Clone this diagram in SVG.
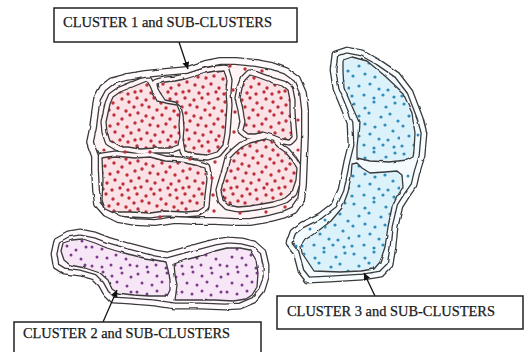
<svg xmlns="http://www.w3.org/2000/svg" xmlns:xlink="http://www.w3.org/1999/xlink" width="524" height="352" viewBox="0 0 524 352">
<style>
.lbl{font-family:"Liberation Serif","Times New Roman",serif;font-size:14px;fill:#1a1a1a;stroke:#1a1a1a;stroke-width:0.25}
.box{fill:#fff;stroke:#222;stroke-width:1.5}
.conn{stroke:#111;stroke-width:1.3;fill:none}
.edge{fill:none;stroke:#3a3a3a;stroke-width:1.3;stroke-linejoin:round}
.haloD{fill:none;stroke:#3a3a3a;stroke-width:11.3;stroke-linejoin:round}
.dblD1{fill:none;stroke:#3a3a3a;stroke-width:8;stroke-linejoin:round}
.dblD{fill:none;stroke:#3a3a3a;stroke-width:7;stroke-linejoin:round}
.rd{fill:#bf303a}
.bd{fill:#2e8dbd}
</style>
<defs>
<filter id="rough" x="-5%" y="-5%" width="110%" height="110%">
<feTurbulence type="fractalNoise" baseFrequency="0.09" numOctaves="2" seed="4" result="n"/>
<feDisplacementMap in="SourceGraphic" in2="n" scale="2.6" xChannelSelector="R" yChannelSelector="G"/>
</filter>
<pattern id="dotsRed" patternUnits="userSpaceOnUse" width="48" height="48">
<rect width="48" height="48" fill="#fbe2e7"/>
<g fill="#bf303a">
<circle cx="2" cy="4" r="1.7"/><circle cx="10" cy="2" r="1.7"/><circle cx="17" cy="7" r="1.7"/><circle cx="26" cy="3" r="1.7"/><circle cx="33" cy="6" r="1.7"/><circle cx="41" cy="2" r="1.7"/><circle cx="46" cy="9" r="1.7"/>
<circle cx="5" cy="11" r="1.7"/><circle cx="13" cy="14" r="1.7"/><circle cx="22" cy="12" r="1.7"/><circle cx="30" cy="15" r="1.7"/><circle cx="38" cy="11" r="1.7"/>
<circle cx="2" cy="20" r="1.7"/><circle cx="9" cy="22" r="1.7"/><circle cx="18" cy="19" r="1.7"/><circle cx="26" cy="23" r="1.7"/><circle cx="34" cy="19" r="1.7"/><circle cx="42" cy="17" r="1.7"/><circle cx="46" cy="25" r="1.7"/>
<circle cx="6" cy="29" r="1.7"/><circle cx="14" cy="30" r="1.7"/><circle cx="22" cy="28" r="1.7"/><circle cx="31" cy="31" r="1.7"/><circle cx="39" cy="27" r="1.7"/>
<circle cx="3" cy="37" r="1.7"/><circle cx="11" cy="39" r="1.7"/><circle cx="19" cy="36" r="1.7"/><circle cx="27" cy="40" r="1.7"/><circle cx="35" cy="37" r="1.7"/><circle cx="43" cy="34" r="1.7"/><circle cx="45" cy="43" r="1.7"/>
<circle cx="7" cy="45" r="1.7"/><circle cx="16" cy="46" r="1.7"/><circle cx="24" cy="44" r="1.7"/><circle cx="32" cy="46" r="1.7"/><circle cx="39" cy="44" r="1.7"/>
</g>
</pattern>
<pattern id="dotsBlue" patternUnits="userSpaceOnUse" width="50" height="50">
<rect width="50" height="50" fill="#dcf2fa"/>
<g fill="#2e8dbd">
<circle cx="4" cy="4" r="1.6"/><circle cx="15" cy="8" r="1.6"/><circle cx="24" cy="2" r="1.6"/><circle cx="36" cy="7" r="1.6"/><circle cx="45" cy="3" r="1.6"/>
<circle cx="9" cy="16" r="1.6"/><circle cx="19" cy="13" r="1.6"/><circle cx="31" cy="17" r="1.6"/><circle cx="40" cy="14" r="1.6"/><circle cx="48" cy="21" r="1.6"/>
<circle cx="3" cy="26" r="1.6"/><circle cx="15" cy="24" r="1.6"/><circle cx="25" cy="27" r="1.6"/><circle cx="35" cy="25" r="1.6"/><circle cx="43" cy="31" r="1.6"/>
<circle cx="9" cy="36" r="1.6"/><circle cx="20" cy="34" r="1.6"/><circle cx="29" cy="39" r="1.6"/><circle cx="38" cy="40" r="1.6"/><circle cx="49" cy="38" r="1.6"/>
<circle cx="2" cy="46" r="1.6"/><circle cx="14" cy="45" r="1.6"/><circle cx="24" cy="48" r="1.6"/><circle cx="33" cy="45" r="1.6"/><circle cx="44" cy="47" r="1.6"/>
</g>
</pattern>
<pattern id="dotsPurple" patternUnits="userSpaceOnUse" width="45" height="45">
<rect width="45" height="45" fill="#f7e6f6"/>
<g fill="#7b3a8c">
<circle cx="3" cy="4" r="1.5"/><circle cx="13" cy="2" r="1.5"/><circle cx="22" cy="6" r="1.5"/><circle cx="32" cy="3" r="1.5"/><circle cx="41" cy="7" r="1.5"/>
<circle cx="7" cy="13" r="1.5"/><circle cx="17" cy="15" r="1.5"/><circle cx="27" cy="12" r="1.5"/><circle cx="37" cy="16" r="1.5"/>
<circle cx="2" cy="22" r="1.5"/><circle cx="12" cy="24" r="1.5"/><circle cx="22" cy="21" r="1.5"/><circle cx="31" cy="25" r="1.5"/><circle cx="41" cy="22" r="1.5"/>
<circle cx="7" cy="32" r="1.5"/><circle cx="17" cy="33" r="1.5"/><circle cx="26" cy="30" r="1.5"/><circle cx="36" cy="34" r="1.5"/>
<circle cx="2" cy="41" r="1.5"/><circle cx="12" cy="42" r="1.5"/><circle cx="21" cy="40" r="1.5"/><circle cx="31" cy="43" r="1.5"/><circle cx="40" cy="40" r="1.5"/>
</g>
</pattern>
<marker id="arr" markerUnits="userSpaceOnUse" markerWidth="8" markerHeight="8" refX="7" refY="3.5" orient="auto">
<path d="M0,0 L7,3.5 L0,7 Z" fill="#111"/>
</marker>
<path id="out1" d="M90,142 L93,128 95,112 97,99 103,88 112,81 127,77 145,74 165,72 187,70 205,64 220,61 235,61 256,63 272,66 286,71 297,79 303,93 305,110 305,135 304,160 303,185 301,200 294,210 283,215 268,219 250,222 235,222 215,221 195,221 175,220 155,223 135,222 118,219 106,213 98,204 96,190 95,170 95,156 92,148 Z"/>
<path id="a1" d="M108,113 L110,104 113,97 120,92 130,88 142,83 147,81 150,86 153,93 157,101 165,103 177,105 180,112 179,125 180,137 178,145 170,148 155,148 140,149 128,147 120,147 110,141 107,132 106,122 Z"/>
<path id="b1" d="M157,84 L165,82 175,81 185,79 195,76 205,73 215,71 224,70 227,80 226,92 227,105 226,120 225,133 223,145 217,152 207,155 196,154 185,151 183,140 184,128 183,115 181,107 175,102 165,100 161,94 158,89 Z"/>
<path id="c1" d="M245,80 L250,75 257,77 265,80 273,83 283,86 288,90 290,100 290,112 291,125 292,137 289,140 283,139 273,135 263,132 255,134 248,134 243,130 245,122 243,110 240,98 242,88 Z"/>
<path id="d1" d="M230,158 L236,152 242,147 250,143 258,141 266,139 272,141 278,147 285,152 292,160 297,168 296,180 292,192 285,198 273,202 262,204 250,206 238,207 228,205 223,200 221,190 224,180 227,170 Z"/>
<path id="e1" d="M102,158 L115,156 135,158 150,157 165,161 180,162 195,165 205,168 207,180 205,195 204,207 198,211 185,212 165,211 150,213 130,212 112,212 105,209 102,200 103,180 Z"/>
<path id="out2" d="M57,240 L68,234 80,232 95,235 108,240 125,245 140,249 155,253 167,255 185,250 200,246 215,242 228,240 242,241 254,244 263,252 266,265 266,277 262,290 254,300 240,306 225,307 200,306 175,306 155,303 130,301 113,300 106,293 101,284 94,277 80,273 64,271 56,266 54,254 Z"/>
<path id="l2" d="M63,243 L72,240 83,239 95,243 107,248 120,252 140,257 155,260 166,262 168,270 170,280 170,290 167,296 150,296 133,295 118,293 112,289 108,280 100,273 85,268 70,265 64,260 61,251 Z"/>
<path id="r2" d="M174,264 L185,260 200,256 215,251 227,248 240,248 250,250 256,260 258,273 257,287 252,295 246,299 233,301 215,300 200,300 185,300 175,300 176,293 177,285 175,275 Z"/>
<path id="out3" d="M335,54 L347,50 362,53 378,62 397,75 410,92 420,118 424,133 422,156 417,172 414,185 407,195 400,206 395,227 393,247 390,265 381,274 363,277 330,279 308,280 301,271 296,252 289,243 293,232 302,225 320,216 334,205 341,190 344,176 347,161 351,145 350,123 343,106 336,89 333,70 Z"/>
<path id="u3" d="M343,60 L352,57 367,61 385,76 403,93 412,113 415,133 414,150 413,157 407,160 390,162 370,161 357,158 357,147 358,137 359,122 351,104 344,88 343,72 Z"/>
<path id="w3" d="M352,164 L357,163 362,168 370,173 385,172 397,171 402,175 403,187 397,197 392,207 388,227 385,247 380,262 374,269 360,271 340,272 314,271 308,262 302,253 301,246 305,240 318,231 331,221 342,208 348,192 351,176 Z"/>
</defs>
<rect width="524" height="352" fill="#fff"/>

<g id="cluster1">
<use xlink:href="#out1" fill="#fff5f7"/>
<g filter="url(#rough)">
<use xlink:href="#a1" class="haloD"/><use xlink:href="#b1" class="haloD"/><use xlink:href="#c1" class="haloD"/><use xlink:href="#d1" class="haloD"/><use xlink:href="#e1" class="haloD"/>
<g fill="none" stroke="#fff5f7" stroke-width="8.7" stroke-linejoin="round">
<use xlink:href="#a1"/><use xlink:href="#b1"/><use xlink:href="#c1"/><use xlink:href="#d1"/><use xlink:href="#e1"/>
</g>
<use xlink:href="#out1" class="dblD1"/>
<use xlink:href="#out1" fill="none" stroke="#fffafb" stroke-width="5.4" stroke-linejoin="round"/>
</g>
<g class="rd">
<circle cx="230" cy="66" r="1.7"/><circle cx="245" cy="69" r="1.7"/><circle cx="262" cy="71" r="1.7"/><circle cx="233" cy="90" r="1.7"/><circle cx="235" cy="112" r="1.7"/><circle cx="234" cy="132" r="1.7"/><circle cx="215" cy="162" r="1.7"/><circle cx="212" cy="178" r="1.7"/><circle cx="213" cy="195" r="1.7"/><circle cx="214" cy="211" r="1.7"/><circle cx="190" cy="159" r="1.7"/><circle cx="150" cy="152" r="1.7"/><circle cx="125" cy="152" r="1.7"/><circle cx="298" cy="120" r="1.6"/><circle cx="298" cy="150" r="1.6"/><circle cx="266" cy="212" r="1.7"/><circle cx="285" cy="207" r="1.7"/><circle cx="160" cy="217" r="1.7"/><circle cx="240" cy="213" r="1.7"/><circle cx="104" cy="150" r="1.6"/>
</g>
<g fill="url(#dotsRed)">
<use xlink:href="#a1"/><use xlink:href="#b1"/><use xlink:href="#c1"/><use xlink:href="#d1"/><use xlink:href="#e1"/>
</g>
<g filter="url(#rough)">
<use xlink:href="#a1" class="edge"/><use xlink:href="#b1" class="edge"/><use xlink:href="#c1" class="edge"/><use xlink:href="#d1" class="edge"/><use xlink:href="#e1" class="edge"/>
</g>
</g>

<g id="cluster2">
<use xlink:href="#out2" fill="#fdf6fd"/>
<g filter="url(#rough)">
<use xlink:href="#out2" class="dblD"/>
<use xlink:href="#out2" fill="none" stroke="#fefafe" stroke-width="4.4" stroke-linejoin="round"/>
</g>
<g fill="url(#dotsPurple)">
<use xlink:href="#l2"/><use xlink:href="#r2"/>
</g>
<g filter="url(#rough)">
<use xlink:href="#l2" class="edge"/><use xlink:href="#r2" class="edge"/>
</g>
</g>

<g id="cluster3">
<use xlink:href="#out3" fill="#f3fbfe"/>
<g filter="url(#rough)">
<use xlink:href="#out3" class="dblD"/>
<use xlink:href="#out3" fill="none" stroke="#f8fdff" stroke-width="4.4" stroke-linejoin="round"/>
</g>
<g class="bd">
<circle cx="418" cy="135" r="1.5"/><circle cx="296" cy="246" r="1.5"/><circle cx="310" cy="229" r="1.5"/><circle cx="325" cy="220" r="1.5"/><circle cx="408" cy="176" r="1.5"/>
</g>
<g fill="url(#dotsBlue)">
<use xlink:href="#u3"/><use xlink:href="#w3"/>
</g>
<g filter="url(#rough)">
<use xlink:href="#u3" class="edge"/><use xlink:href="#w3" class="edge"/>
</g>
</g>

<g id="connectors">
<line class="conn" x1="179" y1="42" x2="188" y2="69" marker-end="url(#arr)"/>
<line class="conn" x1="103" y1="322" x2="117" y2="290" marker-end="url(#arr)"/>
<line class="conn" x1="375" y1="296" x2="364" y2="273" marker-end="url(#arr)"/>
</g>

<g id="label1">
<rect class="box" x="54" y="8" width="243" height="34"/>
<text class="lbl" x="63" y="27" textLength="209" lengthAdjust="spacingAndGlyphs">CLUSTER 1 and SUB-CLUSTERS</text>
</g>
<g id="label2">
<rect class="box" x="14" y="322" width="247" height="40"/>
<text class="lbl" x="23" y="338" textLength="207" lengthAdjust="spacingAndGlyphs">CLUSTER 2 and SUB-CLUSTERS</text>
</g>
<g id="label3">
<rect class="box" x="277" y="296" width="246" height="33"/>
<text class="lbl" x="287" y="316" textLength="208" lengthAdjust="spacingAndGlyphs">CLUSTER 3 and SUB-CLUSTERS</text>
</g>
</svg>
